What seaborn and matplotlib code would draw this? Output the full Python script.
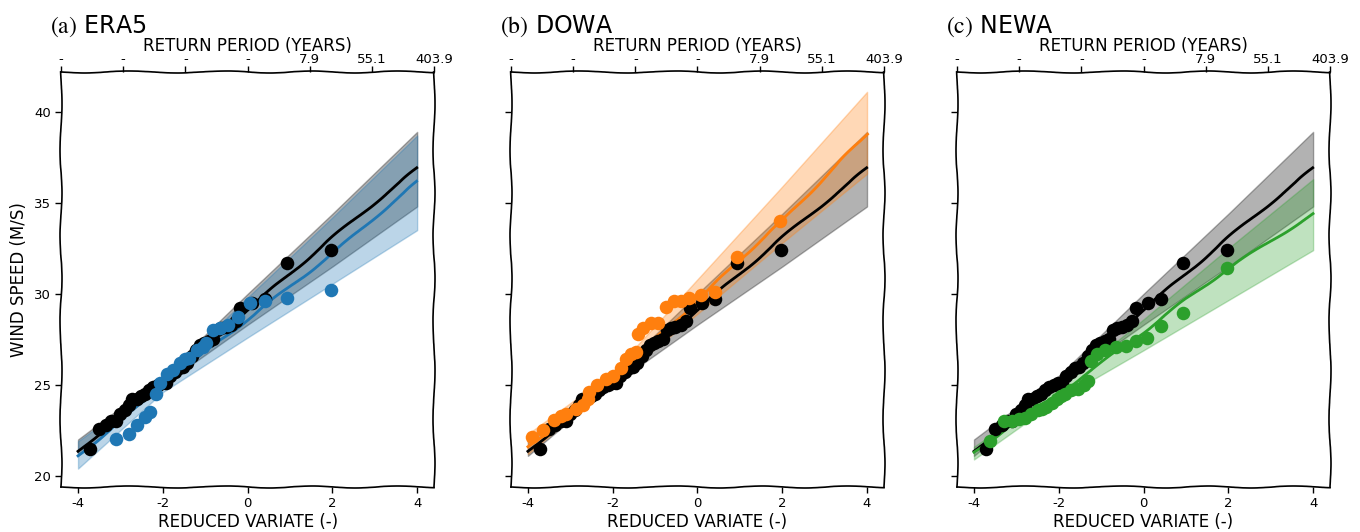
import numpy as np
import pandas as pd
import seaborn as sns
import matplotlib.pyplot as plt

# fitted curves are read at these reduced-variate positions
fit_x = [-4, -3, -2, -1, 0, 1, 2, 3, 4]
band_x = [-4, -2, 0, 2, 4]

# observations (black, same in every panel)
obs_x = [-3.72, -3.5, -3.35, -3.22, -3.1, -3.0, -2.9, -2.8, -2.72, -2.62, -2.52, -2.42,
         -2.32, -2.22, -2.12, -2.02, -1.92, -1.82, -1.72, -1.62, -1.52, -1.42, -1.32,
         -1.22, -1.12, -1.02, -0.92, -0.82, -0.72, -0.62, -0.52, -0.40, -0.28, -0.17,
         0.10, 0.42, 0.93, 1.97]
obs_y = [21.5, 22.6, 22.8, 23.0, 23.0, 23.4, 23.6, 23.9, 24.2, 24.2, 24.4, 24.5,
         24.7, 24.9, 25.0, 25.1, 25.1, 25.5, 25.7, 25.9, 26.0, 26.2, 26.6,
         26.9, 27.2, 27.3, 27.4, 27.5, 28.0, 28.1, 28.2, 28.3, 28.5, 29.2,
         29.5, 29.7, 31.7, 32.4]
obs_line = [21.35, 23.3, 25.25, 27.15, 29.15, 31.1, 33.1, 35.0, 36.9]
obs_lo = [21.1, 25.0, 28.3, 31.5, 34.8]
obs_hi = [22.0, 25.5, 30.0, 34.4, 38.9]

# ERA5
era5_x = [-3.11, -2.80, -2.6, -2.42, -2.31, -2.16, -2.07, -1.91, -1.75, -1.6, -1.48, -1.38,
          -1.2, -1.05, -0.97, -0.82, -0.66, -0.46, -0.23, 0.05, 0.40, 0.93, 1.97]
era5_y = [22.05, 22.3, 22.8, 23.25, 23.5, 24.5, 25.1, 25.6, 25.8, 26.2, 26.4, 26.5,
          26.9, 27.1, 27.3, 28.0, 28.1, 28.3, 28.75, 29.5, 29.6, 29.75, 30.2]
era5_line = [21.1, 23.0, 24.95, 26.8, 28.6, 30.4, 32.2, 34.2, 36.15]
era5_lo = [20.4, 24.6, 27.6, 30.55, 33.5]
era5_hi = [21.9, 25.3, 29.8, 34.2, 38.7]

# DOWA
dowa_x = [-3.91, -3.65, -3.38, -3.22, -3.1, -2.87, -2.71, -2.59, -2.55, -2.36, -2.16, -2.0,
          -1.81, -1.69, -1.57, -1.45, -1.41, -1.29, -1.1, -0.94, -0.75, -0.55, -0.4, -0.2,
          0.08, 0.41, 0.93, 1.95]
dowa_y = [22.15, 22.5, 23.05, 23.3, 23.4, 23.7, 23.9, 24.2, 24.6, 25.0, 25.3, 25.5,
          25.9, 26.4, 26.7, 26.8, 27.8, 28.1, 28.4, 28.4, 29.3, 29.6, 29.6, 29.8,
          29.95, 30.1, 32.05, 34.0]
dowa_line = [21.6, 23.4, 25.4, 27.5, 29.6, 31.9, 34.0, 36.4, 38.8]
dowa_lo = [21.2, 25.1, 28.9, 32.8, 36.6]
dowa_hi = [22.3, 25.7, 30.8, 35.9, 41.1]

# NEWA
newa_x = [-3.62, -3.3, -3.1, -2.95, -2.8, -2.65, -2.5, -2.4, -2.3, -2.15, -2.05, -1.95,
          -1.85, -1.7, -1.55, -1.4, -1.3, -1.23, -1.11, -0.92, -0.66, -0.41, -0.17,
          0.09, 0.42, 0.93, 1.97]
newa_y = [21.9, 23.0, 23.0, 23.1, 23.2, 23.4, 23.6, 23.7, 23.8, 24.0, 24.2, 24.4,
          24.5, 24.7, 24.8, 25.0, 25.2, 26.3, 26.7, 26.9, 27.1, 27.15, 27.4,
          27.55, 28.25, 28.97, 31.4]
newa_line = [21.3, 23.0, 24.5, 26.2, 27.9, 29.7, 31.4, 32.9, 34.4]
newa_lo = [20.9, 24.2, 26.9, 29.65, 32.4]
newa_hi = [21.6, 24.8, 28.6, 32.5, 36.3]

# top axis: return period labels
rp_ticks = [-6, -4, -2, 0, 2, 4, 6]
rp_labels = ['-', '-', '-', '-', '7.9', '55.1', '403.9']

panels = [
    ('(a)', 'ERA5', '#1f77b4', era5_x, era5_y, era5_line, era5_lo, era5_hi),
    ('(b)', 'DOWA', '#ff7f0e', dowa_x, dowa_y, dowa_line, dowa_lo, dowa_hi),
    ('(c)', 'NEWA', '#2ca02c', newa_x, newa_y, newa_line, newa_lo, newa_hi),
]

plt.xkcd()
plt.rcParams['path.effects'] = []
plt.rcParams['font.family'] = ['DejaVu Sans']
plt.rcParams['mathtext.fontset'] = 'stix'
plt.rcParams['axes.linewidth'] = 1.2

fig = plt.figure(figsize=(13.6, 5.32), dpi=100)
lefts = [0.0449, 0.3757, 0.7037]

for i, (letter, name, color, mx, my, mline, mlo, mhi) in enumerate(panels):
    ax = fig.add_axes([lefts[i], 0.085, 0.2743, 0.780])

    ax.fill_between(band_x, obs_lo, obs_hi, color='k', alpha=0.3, lw=1)
    sns.lineplot(x=fit_x, y=obs_line, color='k', lw=2, ax=ax)
    sns.scatterplot(x=obs_x, y=obs_y, color='k', s=95, linewidth=0, ax=ax, zorder=3)

    ax.fill_between(band_x, mlo, mhi, color=color, alpha=0.3, lw=1)
    sns.lineplot(x=fit_x, y=mline, color=color, lw=2, ax=ax)
    sns.scatterplot(x=mx, y=my, color=color, s=95, linewidth=0, ax=ax, zorder=4)

    ax.set_xlim(-4.4, 4.4)
    ax.set_ylim(19.4, 42.2)
    ax.set_xticks([-4, -2, 0, 2, 4])
    ax.set_yticks([20, 25, 30, 35, 40])
    ax.tick_params(length=4, width=1, labelsize=9.5)
    ax.set_xlabel('REDUCED VARIATE (-)', fontsize=12, labelpad=2)
    if i == 0:
        ax.set_ylabel('WIND SPEED (M/S)', fontsize=12)
    else:
        ax.set_yticklabels([])
    ax.spines['top'].set_visible(False)

    top = ax.twiny()
    top.set_xlim(-6, 6)
    top.set_xticks(rp_ticks)
    top.set_xticklabels(rp_labels)
    top.tick_params(length=4, width=1, labelsize=9.5, pad=0.5)
    top.set_xlabel('RETURN PERIOD (YEARS)', fontsize=12, labelpad=1)
    for s in ['left', 'right', 'bottom']:
        top.spines[s].set_visible(False)

    ax.text(-0.03, 1.11, r'$\mathrm{' + letter + '}$ ' + name, transform=ax.transAxes,
            fontsize=17, ha='left', va='center')

fig.savefig('out.png', dpi=100)
